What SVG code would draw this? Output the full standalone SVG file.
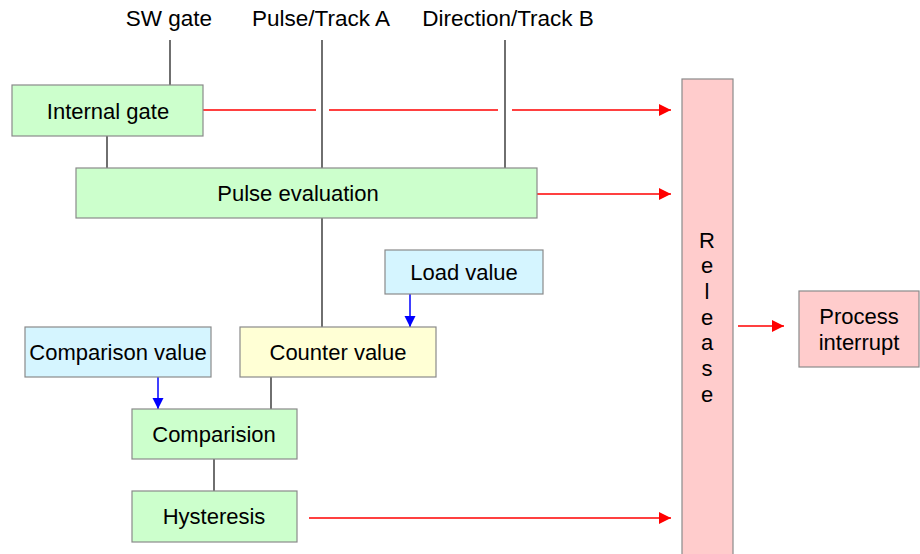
<svg xmlns="http://www.w3.org/2000/svg" width="920" height="554" viewBox="0 0 920 554">
<defs>
<style>
text{font-family:"Liberation Sans",Arial,sans-serif;font-size:22px;fill:#000;text-anchor:middle}
.top{font-size:22.5px}
.box{stroke:#8a8a8a;stroke-width:1.2}
.green{fill:#ccffcc}
.blue{fill:#d5f5ff}
.yellow{fill:#ffffd5}
.pink{fill:#ffcccc}
.blk{stroke:#333;stroke-width:1.4;fill:none}
.red{stroke:#ff0000;stroke-width:1.5;fill:none}
.bl{stroke:#0000ff;stroke-width:1.5;fill:none}
</style>
<marker id="ar" markerWidth="12" markerHeight="12" refX="12" refY="6" orient="auto" markerUnits="userSpaceOnUse"><path d="M0,0 L12,6 L0,12 Z" fill="#ff0000"/></marker>
<marker id="ab" markerWidth="11" markerHeight="12" refX="11" refY="5.5" orient="auto" markerUnits="userSpaceOnUse"><path d="M0,0 L11,5.5 L0,11 Z" fill="#0000ff"/></marker>
</defs>
<g id="labels">
<text class="top" x="169" y="26">SW gate</text>
<text class="top" x="321" y="26">Pulse/Track A</text>
<text class="top" x="508" y="26">Direction/Track B</text>
</g>
<g id="connectors">
<line class="blk" x1="170" y1="40" x2="170" y2="85"/>
<line class="blk" x1="322" y1="40" x2="322" y2="168"/>
<line class="blk" x1="505" y1="40" x2="505" y2="168"/>
<line class="blk" x1="107" y1="136" x2="107" y2="168"/>
<line class="blk" x1="322" y1="218" x2="322" y2="327"/>
<line class="blk" x1="271" y1="377" x2="271" y2="409"/>
<line class="blk" x1="214" y1="459" x2="214" y2="491"/>
<line class="red" x1="203" y1="110" x2="316" y2="110"/>
<line class="red" x1="329" y1="110" x2="498" y2="110"/>
<line class="red" x1="512" y1="110" x2="671" y2="110" marker-end="url(#ar)"/>
<line class="red" x1="537" y1="194" x2="671" y2="194" marker-end="url(#ar)"/>
<line class="red" x1="309" y1="518" x2="671" y2="518" marker-end="url(#ar)"/>
<line class="red" x1="738" y1="326" x2="784" y2="326" marker-end="url(#ar)"/>
<line class="bl" x1="158" y1="377" x2="158" y2="409" marker-end="url(#ab)"/>
<line class="bl" x1="410" y1="294" x2="410" y2="327" marker-end="url(#ab)"/>
</g>
<g id="internal-gate">
<rect class="box green" x="12" y="85" width="191" height="51"/>
<text x="108" y="119">Internal gate</text>
</g>
<g id="pulse-evaluation">
<rect class="box green" x="76" y="168" width="461" height="50"/>
<text x="298" y="201">Pulse evaluation</text>
</g>
<g id="load-value">
<rect class="box blue" x="385" y="250" width="158" height="44"/>
<text x="464" y="280">Load value</text>
</g>
<g id="comparison-value">
<rect class="box blue" x="25" y="327" width="186" height="50"/>
<text x="118" y="360">Comparison value</text>
</g>
<g id="counter-value">
<rect class="box yellow" x="240" y="327" width="196" height="50"/>
<text x="338" y="360">Counter value</text>
</g>
<g id="comparision">
<rect class="box green" x="132" y="409" width="165" height="50"/>
<text x="214" y="442">Comparision</text>
</g>
<g id="hysteresis">
<rect class="box green" x="132" y="491" width="165" height="51"/>
<text x="214" y="524">Hysteresis</text>
</g>
<g id="release">
<rect class="box pink" x="682" y="79" width="51" height="480"/>
<text x="707" y="248">R</text>
<text x="707" y="273">e</text>
<text x="707" y="299">l</text>
<text x="707" y="325">e</text>
<text x="707" y="350">a</text>
<text x="707" y="376">s</text>
<text x="707" y="402">e</text>
</g>
<g id="process-interrupt">
<rect class="box pink" x="799" y="291" width="120" height="76"/>
<text x="859" y="324">Process</text>
<text x="859" y="350">interrupt</text>
</g>
</svg>
